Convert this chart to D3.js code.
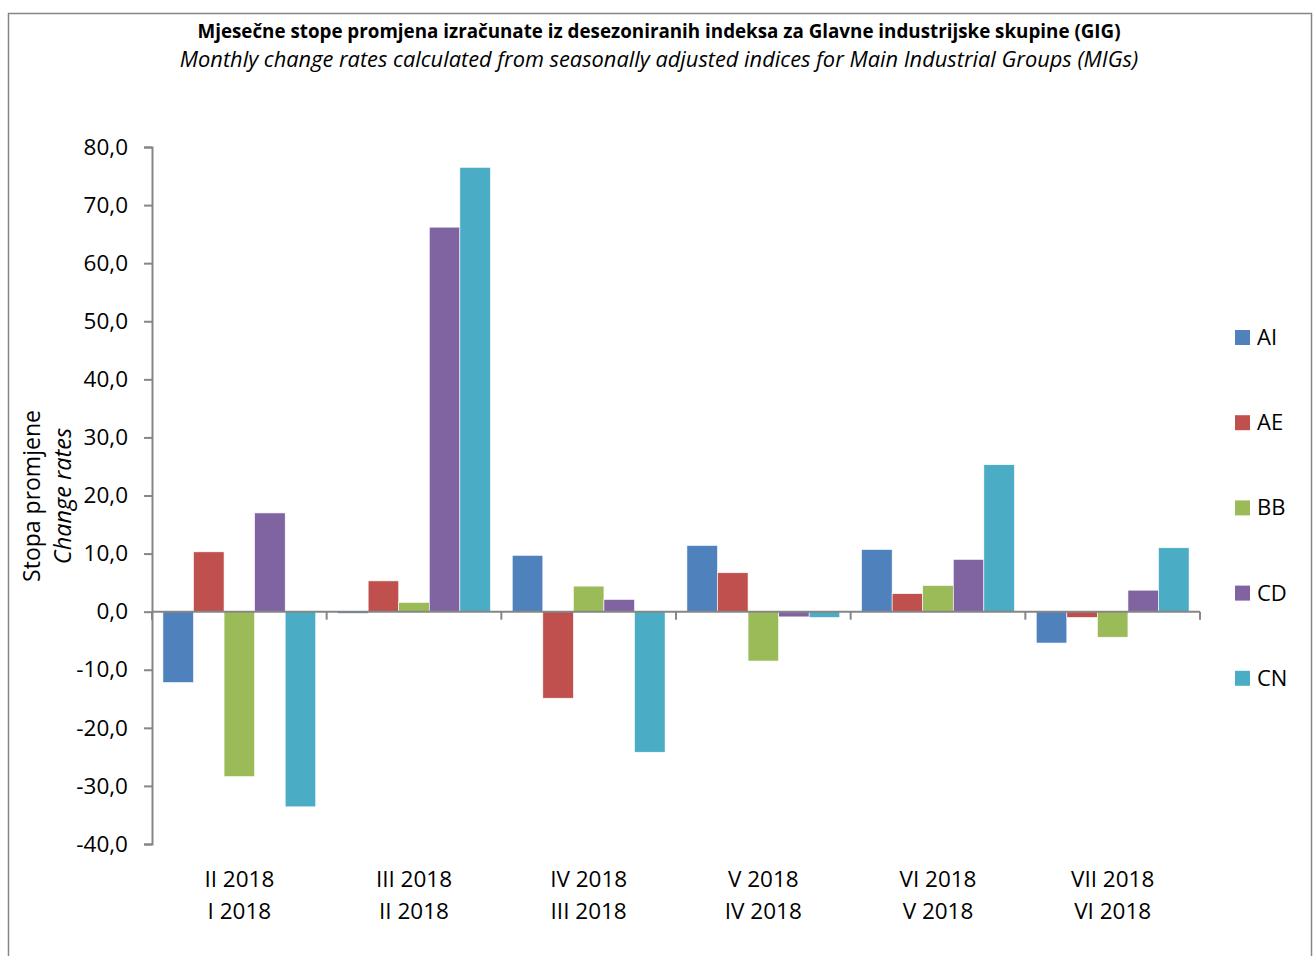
<!DOCTYPE html>
<html>
<head>
<meta charset="utf-8">
<script src="https://cdn.jsdelivr.net/npm/d3@7"></script>
<style>
  body { margin: 0; background: #fff; }
  svg text { font-family: "Open Sans", "Noto Sans", sans-serif; fill: #000; }
</style>
</head>
<body>
<div id="chart"></div>
<script>
// data
var periodsTop = ["II 2018", "III 2018", "IV 2018", "V 2018", "VI 2018", "VII 2018"];
var periodsBottom = ["I 2018", "II 2018", "III 2018", "IV 2018", "V 2018", "VI 2018"];
var seriesNames = ["AI", "AE", "BB", "CD", "CN"];
var AI = [-12.2, -0.3, 9.7, 11.4, 10.7, -5.4];
var AE = [10.3, 5.3, -14.9, 6.7, 3.1, -1.0];
var BB = [-28.4, 1.6, 4.4, -8.5, 4.5, -4.4];
var CD = [17.0, 66.2, 2.1, -0.9, 9.0, 3.7];
var CN = [-33.6, 76.5, -24.2, -1.0, 25.3, 11.0];
var yTicks = [-40, -30, -20, -10, 0, 10, 20, 30, 40, 50, 60, 70, 80];
var seriesColors = ["#4F81BD", "#C0504D", "#9BBB59", "#8064A2", "#4BACC6"];

var values = [AI, AE, BB, CD, CN];

var W = 1313, H = 956;
var plot = { left: 152, right: 1200, top: 147, bottom: 844 };

var svg = d3.select("#chart")
    .append("svg")
    .attr("width", W)
    .attr("height", H);

// outer frame
svg.append("rect")
    .attr("x", 8.5).attr("y", 13.5)
    .attr("width", 1303).attr("height", 960)
    .attr("fill", "#fff")
    .attr("stroke", "#868686")
    .attr("stroke-width", 1.5);

// titles
svg.append("text")
    .attr("x", 659).attr("y", 38)
    .attr("text-anchor", "middle")
    .attr("font-size", 18.8)
    .attr("font-weight", "bold")
    .text("Mjesečne stope promjena izračunate iz desezoniranih indeksa za Glavne industrijske skupine (GIG)");
svg.append("text")
    .attr("x", 659).attr("y", 67)
    .attr("text-anchor", "middle")
    .attr("font-size", 21.8)
    .attr("font-style", "italic")
    .text("Monthly change rates calculated from seasonally adjusted indices for Main Industrial Groups (MIGs)");

var x = d3.scaleBand()
    .domain(d3.range(periodsTop.length))
    .range([plot.left, plot.right])
    .paddingInner(0.125)
    .paddingOuter(0.0625);

var xs = d3.scaleBand()
    .domain(seriesNames)
    .range([0, x.bandwidth()]);

var y = d3.scaleLinear()
    .domain([-40, 80])
    .range([plot.bottom, plot.top]);

// bars
seriesNames.forEach(function (s, si) {
    svg.append("g")
        .selectAll("rect")
        .data(values[si])
        .enter()
        .append("rect")
        .attr("x", function (d, i) { return x(i) + xs(s); })
        .attr("y", function (d) { return y(Math.max(0, d)); })
        .attr("width", xs.bandwidth())
        .attr("height", function (d) { return Math.abs(y(d) - y(0)); })
        .attr("fill", seriesColors[si])
        .attr("stroke", "#fff")
        .attr("stroke-width", 0.6);
});

// y axis
var yAxis = svg.append("g")
    .attr("transform", "translate(" + plot.left + ",0)")
    .call(d3.axisLeft(y)
        .tickValues(yTicks)
        .tickSize(8)
        .tickPadding(16)
        .tickFormat(function (d) { return d3.format(".1f")(d).replace(".", ",").replace("−", "-"); }));
yAxis.select(".domain").attr("stroke", "#868686").attr("stroke-width", 2);
yAxis.selectAll(".tick line").attr("stroke", "#868686").attr("stroke-width", 2);
yAxis.selectAll("text").attr("font-size", 22.5).attr("font-family", "'Open Sans', sans-serif");

// x axis at zero
var step = x.step();
var bounds = d3.range(periodsTop.length + 1).map(function (i) { return plot.left + i * step; });
var xAxis = svg.append("g");
xAxis.append("line")
    .attr("x1", plot.left).attr("x2", plot.right)
    .attr("y1", y(0)).attr("y2", y(0))
    .attr("stroke", "#868686").attr("stroke-width", 2);
xAxis.selectAll(".tk")
    .data(bounds)
    .enter()
    .append("line")
    .attr("x1", function (d) { return d; })
    .attr("x2", function (d) { return d; })
    .attr("y1", y(0))
    .attr("y2", y(0) + 8)
    .attr("stroke", "#868686").attr("stroke-width", 2);

// category labels
var labels = svg.append("g");
labels.selectAll(".top")
    .data(periodsTop)
    .enter()
    .append("text")
    .attr("x", function (d, i) { return x(i) + x.bandwidth() / 2; })
    .attr("y", 887)
    .attr("text-anchor", "middle")
    .attr("font-size", 22.5)
    .text(function (d) { return d; });
labels.selectAll(".bot")
    .data(periodsBottom)
    .enter()
    .append("text")
    .attr("x", function (d, i) { return x(i) + x.bandwidth() / 2; })
    .attr("y", 919)
    .attr("text-anchor", "middle")
    .attr("font-size", 22.5)
    .text(function (d) { return d; });

// y axis title
svg.append("text")
    .attr("transform", "translate(40,496) rotate(-90)")
    .attr("text-anchor", "middle")
    .attr("font-size", 23)
    .text("Stopa promjene");
svg.append("text")
    .attr("transform", "translate(71,496) rotate(-90)")
    .attr("text-anchor", "middle")
    .attr("font-size", 23.5)
    .attr("font-style", "italic")
    .text("Change rates");

// legend
var legend = svg.append("g")
    .selectAll("g")
    .data(seriesNames)
    .enter()
    .append("g")
    .attr("transform", function (d, i) { return "translate(1235," + (337 + i * 85.2) + ")"; });
legend.append("rect")
    .attr("x", 0).attr("y", -7)
    .attr("width", 15).attr("height", 15)
    .attr("fill", function (d, i) { return seriesColors[i]; });
legend.append("text")
    .attr("x", 22).attr("y", 8)
    .attr("font-size", 22)
    .text(function (d) { return d; });
</script>
</body>
</html>
